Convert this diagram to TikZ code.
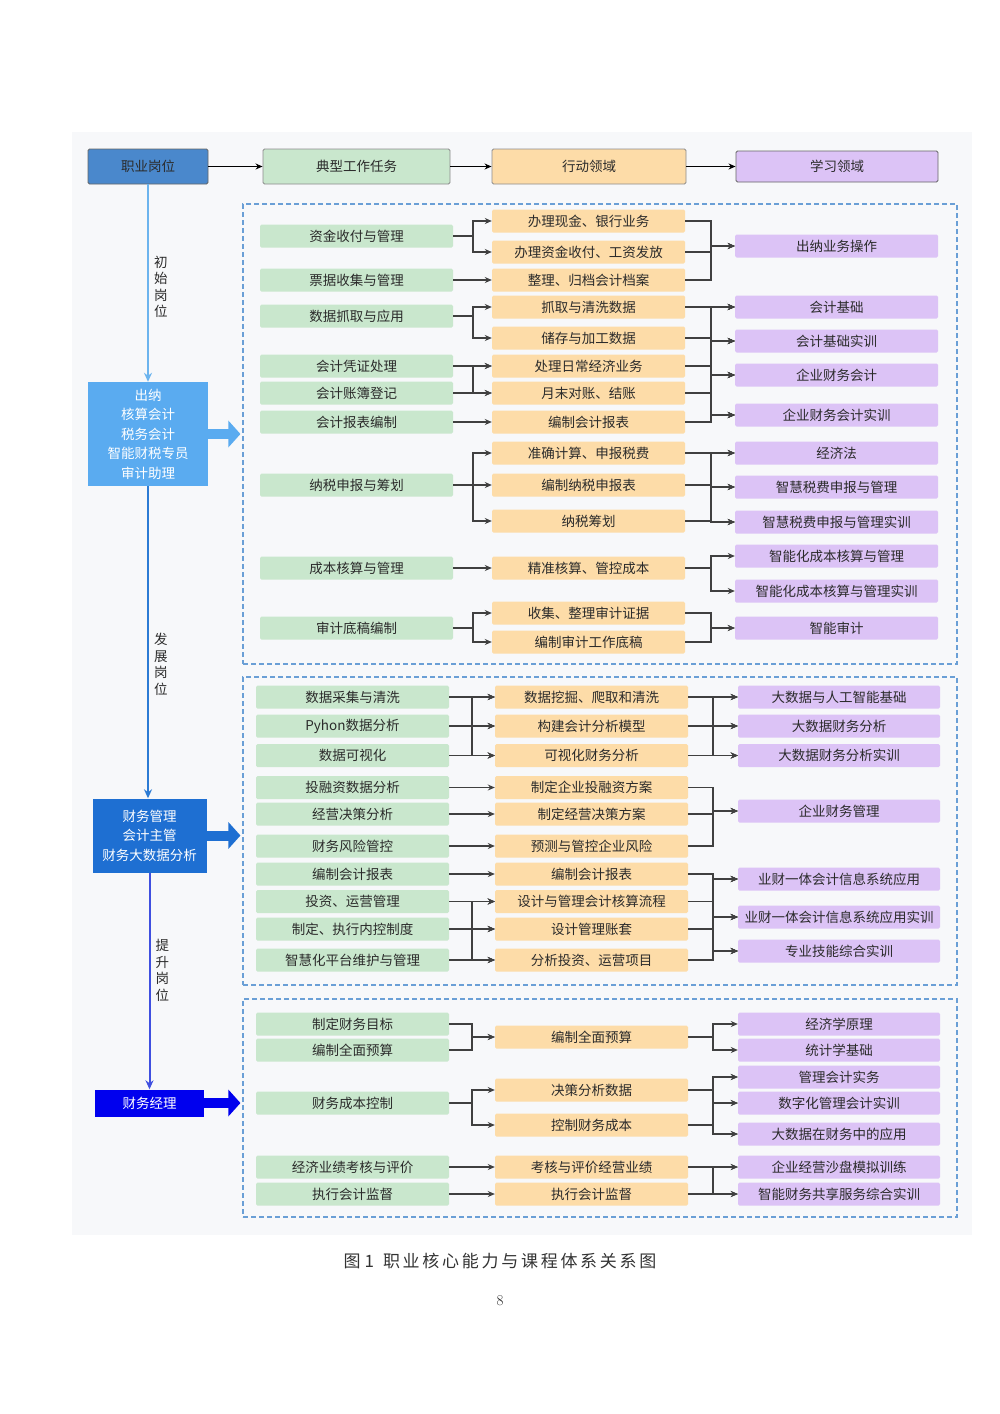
\documentclass[tikz,border=0pt]{standalone}
\usepackage{fontspec}
\usepackage{tikz}
\usetikzlibrary{arrows.meta, positioning}
\newfontfamily\cjk{Noto Sans CJK SC}
\newfontfamily\cjkwide[LetterSpace=16]{Noto Sans CJK SC}

\definecolor{taskgreen}{HTML}{C9E7CD}
\definecolor{actorange}{HTML}{FDDCA8}
\definecolor{learnpurple}{HTML}{DCC3F6}
\definecolor{bggray}{HTML}{F7F8FA}
\definecolor{dashblue}{HTML}{6A9FD6}
\definecolor{linkgray}{HTML}{404040}
\definecolor{txt}{HTML}{2B2B2B}
\definecolor{headblue}{HTML}{4A88CC}
\definecolor{posA}{HTML}{5AABF0}
\definecolor{posB}{HTML}{1E6FD2}
\definecolor{posC}{HTML}{0000EE}
\definecolor{lineA}{HTML}{6CB4EE}
\definecolor{lineB}{HTML}{2C7BD4}
\definecolor{lineC}{HTML}{3F4FE0}

\begin{document}
\begin{tikzpicture}[x=1pt, y=-1pt,
    cellbox/.style={rounded corners=1.5pt, minimum height=23pt, inner sep=0pt,
        text=txt, font=\cjk\fontsize{13.5}{16}\selectfont},
    taskbox/.style={cellbox, fill=taskgreen, minimum width=193pt},
    actbox/.style={cellbox, fill=actorange, minimum width=193pt},
    learnbox/.style={cellbox, fill=learnpurple, minimum width=203pt},
    headbox/.style={cellbox, draw=#1, line width=0.9pt, minimum height=35pt},
    postbox/.style={fill=#1, text=white, align=center, inner sep=0pt,
        font=\cjk\fontsize{13.5}{19.5}\selectfont},
    zonebox/.style={draw=dashblue, dash pattern=on 5pt off 3pt, line width=1.1pt,
        minimum width=714pt, inner sep=0pt},
    linkarr/.style={draw=linkgray, line width=1.2pt, -{Stealth[length=7pt,width=6pt]}},
    risearr/.style={draw=#1, line width=2pt, -{Stealth[length=9pt,width=8pt]}},
    pusharr/.style={draw=#1, line width=10pt, shorten >=2pt,
        -{Triangle[length=12pt,width=26pt]}},
    vlabel/.style={right, inner sep=5pt, align=center, text=txt,
        font=\cjk\fontsize{13.5}{16.5}\selectfont}
]

% Page and panel
\useasboundingbox (0,0) rectangle (1000,1414);
\fill[bggray] (72,132) rectangle (972,1235);

% Header row
\node[headbox=black!60, fill=headblue, minimum width=120pt] (h0) at (148,166.5) {职业岗位};
\node[headbox=black!45, fill=taskgreen, minimum width=187pt] (h1) at (356.5,166.5) {典型工作任务};
\node[headbox=black!45, fill=actorange, minimum width=194pt] (h2) at (589,166.5) {行动领域};
\node[headbox=black!60, fill=learnpurple, minimum width=202pt, minimum height=31pt] (h3) at (837,166.5) {学习领域};
\draw[linkarr, draw=black] (h0) -- (h1);
\draw[linkarr, draw=black] (h1) -- (h2);
\draw[linkarr, draw=black] (h2) -- (h3);

% Dashed zones
\node[zonebox, minimum height=460pt] (z1) at (600,434) {};
\node[zonebox, minimum height=308pt] (z2) at (600,831) {};
\node[zonebox, minimum height=218pt] (z3) at (600,1108) {};

% Posts
\node[postbox=posA, minimum width=120pt, minimum height=104pt] (p1) at (148,434)
    {出纳\\核算会计\\税务会计\\智能财税专员\\审计助理};
\node[postbox=posB, minimum width=114pt, minimum height=74pt] (p2) at (149.5,835.5)
    {财务管理\\会计主管\\财务大数据分析};
\node[postbox=posC, minimum width=109pt, minimum height=27pt] (p3) at (149.5,1103) {财务经理};

\draw[risearr=lineA] (h0.south) -- node[vlabel, pos=0.52] {初\\始\\岗\\位} (p1.north);
\draw[risearr=lineB] (p1.south) -- node[vlabel, pos=0.57] {发\\展\\岗\\位} (p1.south |- p2.north);
\draw[risearr=lineC] (p2.south) -- node[vlabel, pos=0.45] {提\\升\\岗\\位} (p2.south |- p3.north);

\draw[pusharr=posA] (p1.east) -- (p1.east -| z1.west);
\draw[pusharr=posB] (p2.east) -- (p2.east -| z2.west);
\draw[pusharr=posC] (p3.east) -- (p3.east -| z3.west);

% Zone 1, tasks
\node[taskbox] (ta1) at (356.5,236) {资金收付与管理};
\node[taskbox] (ta2) at (356.5,280) {票据收集与管理};
\node[taskbox] (ta3) at (356.5,316) {数据抓取与应用};
\node[taskbox] (ta4) at (356.5,366) {会计凭证处理};
\node[taskbox] (ta5) at (356.5,393) {会计账簿登记};
\node[taskbox] (ta6) at (356.5,422) {会计报表编制};
\node[taskbox] (ta7) at (356.5,485) {纳税申报与筹划};
\node[taskbox] (ta8) at (356.5,568) {成本核算与管理};
\node[taskbox] (ta9) at (356.5,628) {审计底稿编制};

% Zone 1, actions
\node[actbox] (ac1) at (588.5,221) {办理现金、银行业务};
\node[actbox] (ac2) at (588.5,252) {办理资金收付、工资发放};
\node[actbox] (ac3) at (588.5,280) {整理、归档会计档案};
\node[actbox] (ac4) at (588.5,307) {抓取与清洗数据};
\node[actbox] (ac5) at (588.5,338) {储存与加工数据};
\node[actbox] (ac6) at (588.5,366) {处理日常经济业务};
\node[actbox] (ac7) at (588.5,393) {月末对账、结账};
\node[actbox] (ac8) at (588.5,422) {编制会计报表};
\node[actbox] (ac9) at (588.5,453) {准确计算、申报税费};
\node[actbox] (ac10) at (588.5,485) {编制纳税申报表};
\node[actbox] (ac11) at (588.5,521) {纳税筹划};
\node[actbox] (ac12) at (588.5,568) {精准核算、管控成本};
\node[actbox] (ac13) at (588.5,613) {收集、整理审计证据};
\node[actbox] (ac14) at (588.5,642) {编制审计工作底稿};

% Zone 1, courses
\node[learnbox] (le1) at (836.5,246) {出纳业务操作};
\node[learnbox] (le2) at (836.5,307) {会计基础};
\node[learnbox] (le3) at (836.5,341) {会计基础实训};
\node[learnbox] (le4) at (836.5,375) {企业财务会计};
\node[learnbox] (le5) at (836.5,415) {企业财务会计实训};
\node[learnbox] (le6) at (836.5,453) {经济法};
\node[learnbox] (le7) at (836.5,487) {智慧税费申报与管理};
\node[learnbox] (le8) at (836.5,522) {智慧税费申报与管理实训};
\node[learnbox] (le9) at (836.5,556) {智能化成本核算与管理};
\node[learnbox] (le10) at (836.5,591) {智能化成本核算与管理实训};
\node[learnbox] (le11) at (836.5,628) {智能审计};

% Zone 2, tasks
\node[taskbox] (tb1) at (352.5,697) {数据采集与清洗};
\node[taskbox] (tb2) at (352.5,726) {Pyhon数据分析};
\node[taskbox] (tb3) at (352.5,755.5) {数据可视化};
\node[taskbox] (tb4) at (352.5,787.5) {投融资数据分析};
\node[taskbox] (tb5) at (352.5,814) {经营决策分析};
\node[taskbox] (tb6) at (352.5,846) {财务风险管控};
\node[taskbox] (tb7) at (352.5,874) {编制会计报表};
\node[taskbox] (tb8) at (352.5,901.5) {投资、运营管理};
\node[taskbox] (tb9) at (352.5,929) {制定、执行内控制度};
\node[taskbox] (tb10) at (352.5,960) {智慧化平台维护与管理};

% Zone 2, actions
\node[actbox] (ad1) at (591.5,697) {数据挖掘、爬取和清洗};
\node[actbox] (ad2) at (591.5,726) {构建会计分析模型};
\node[actbox] (ad3) at (591.5,755.5) {可视化财务分析};
\node[actbox] (ad4) at (591.5,787.5) {制定企业投融资方案};
\node[actbox] (ad5) at (591.5,814) {制定经营决策方案};
\node[actbox] (ad6) at (591.5,846) {预测与管控企业风险};
\node[actbox] (ad7) at (591.5,874) {编制会计报表};
\node[actbox] (ad8) at (591.5,901.5) {设计与管理会计核算流程};
\node[actbox] (ad9) at (591.5,929) {设计管理账套};
\node[actbox] (ad10) at (591.5,960) {分析投资、运营项目};

% Zone 2, courses
\node[learnbox, minimum width=202pt] (lf1) at (839,697) {大数据与人工智能基础};
\node[learnbox, minimum width=202pt] (lf2) at (839,726) {大数据财务分析};
\node[learnbox, minimum width=202pt] (lf3) at (839,755.5) {大数据财务分析实训};
\node[learnbox, minimum width=202pt] (lf4) at (839,811) {企业财务管理};
\node[learnbox, minimum width=202pt] (lf5) at (839,879) {业财一体会计信息系统应用};
\node[learnbox, minimum width=202pt] (lf6) at (839,917) {业财一体会计信息系统应用实训};
\node[learnbox, minimum width=202pt] (lf7) at (839,951) {专业技能综合实训};

% Zone 3, tasks
\node[taskbox] (tc1) at (352.5,1024) {制定财务目标};
\node[taskbox] (tc2) at (352.5,1050) {编制全面预算};
\node[taskbox] (tc3) at (352.5,1103) {财务成本控制};
\node[taskbox] (tc4) at (352.5,1167) {经济业绩考核与评价};
\node[taskbox] (tc5) at (352.5,1194) {执行会计监督};

% Zone 3, actions
\node[actbox] (ae1) at (591.5,1037) {编制全面预算};
\node[actbox] (ae2) at (591.5,1090) {决策分析数据};
\node[actbox] (ae3) at (591.5,1125) {控制财务成本};
\node[actbox] (ae4) at (591.5,1167) {考核与评价经营业绩};
\node[actbox] (ae5) at (591.5,1194) {执行会计监督};

% Zone 3, courses
\node[learnbox, minimum width=202pt] (lg1) at (839,1024) {经济学原理};
\node[learnbox, minimum width=202pt] (lg2) at (839,1050) {统计学基础};
\node[learnbox, minimum width=202pt] (lg3) at (839,1077) {管理会计实务};
\node[learnbox, minimum width=202pt] (lg4) at (839,1103) {数字化管理会计实训};
\node[learnbox, minimum width=202pt] (lg5) at (839,1134) {大数据在财务中的应用};
\node[learnbox, minimum width=202pt] (lg6) at (839,1167) {企业经营沙盘模拟训练};
\node[learnbox, minimum width=202pt] (lg7) at (839,1194) {智能财务共享服务综合实训};

% Bus lines
\coordinate (jl1) at (473,0);
\coordinate (jr1) at (711,0);
\coordinate (jl2) at (472,0);
\coordinate (jr2) at (713,0);

% tasks -> actions, zone 1
\foreach \a/\b/\c/\d in {1/1/1/2, 2/2/3/3, 3/3/4/5, 4/5/6/7, 6/6/8/8, 7/7/9/11, 8/8/12/12, 9/9/13/14}
{
    \foreach \i in {\a,...,\b}
        \foreach \j in {\c,...,\d}
            \draw[linkarr] (ta\i.east) -- (ta\i.east -| jl1) |- (ac\j.west);
}

% actions -> courses, zone 1
\foreach \a/\b/\c/\d in {1/3/1/1, 4/8/2/5, 9/11/6/8, 12/12/9/10, 13/14/11/11}
{
    \foreach \i in {\a,...,\b}
        \foreach \j in {\c,...,\d}
            \draw[linkarr] (ac\i.east) -- (ac\i.east -| jr1) |- (le\j.west);
}

% tasks -> actions, zone 2
\foreach \a/\b/\c/\d in {1/3/1/3, 4/4/4/4, 5/5/5/5, 6/6/6/6, 7/7/7/7, 8/10/8/10}
{
    \foreach \i in {\a,...,\b}
        \foreach \j in {\c,...,\d}
            \draw[linkarr] (tb\i.east) -- (tb\i.east -| jl2) |- (ad\j.west);
}

% actions -> courses, zone 2
\foreach \a/\b/\c/\d in {1/3/1/3, 4/6/4/4, 7/10/5/7}
{
    \foreach \i in {\a,...,\b}
        \foreach \j in {\c,...,\d}
            \draw[linkarr] (ad\i.east) -- (ad\i.east -| jr2) |- (lf\j.west);
}

% tasks -> actions, zone 3
\foreach \a/\b/\c/\d in {1/2/1/1, 3/3/2/3, 4/4/4/4, 5/5/5/5}
{
    \foreach \i in {\a,...,\b}
        \foreach \j in {\c,...,\d}
            \draw[linkarr] (tc\i.east) -- (tc\i.east -| jl2) |- (ae\j.west);
}

% actions -> courses, zone 3
\foreach \a/\b/\c/\d in {1/1/1/2, 2/3/3/5, 4/5/6/7}
{
    \foreach \i in {\a,...,\b}
        \foreach \j in {\c,...,\d}
            \draw[linkarr] (ae\i.east) -- (ae\i.east -| jr2) |- (lg\j.west);
}

% Caption
\node[font=\cjkwide\fontsize{17}{20}\selectfont, text=black!80] (cap) at (500,1261)
    {图\hspace{4pt}1\hspace{9pt}职业核心能力与课程体系关系图};
\node[font=\fontsize{15}{17}\selectfont, text=black!85] (pg) at (500,1301) {8};

\end{tikzpicture}
\end{document}
